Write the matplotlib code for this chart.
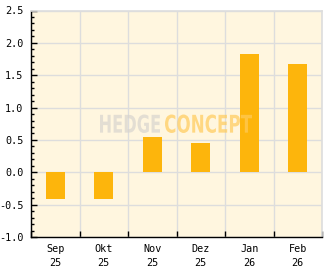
import numpy as np
import matplotlib
matplotlib.use("Agg")
import matplotlib.pyplot as plt
from matplotlib.textpath import TextPath
from matplotlib.patches import PathPatch
from matplotlib.font_manager import FontProperties
from matplotlib.transforms import Affine2D
from matplotlib.ticker import MultipleLocator

# data
months = ["Sep\n25", "Okt\n25", "Nov\n25", "Dez\n25", "Jan\n26", "Feb\n26"]
values = [-0.42, -0.42, 0.55, 0.46, 1.83, 1.67]
y_ticks = [-1.0, -0.5, 0.0, 0.5, 1.0, 1.5, 2.0, 2.5]

BAR = "#FDB50C"
BG = "#FFF6DF"
GRID = "#DDDDDD"

plt.rcParams["axes.unicode_minus"] = False

W, H = 332, 269
fig = plt.figure(figsize=(W / 100, H / 100), dpi=100)
ax = fig.add_axes([31 / W, 1 - 237 / H, 291 / W, 226.5 / H])
ax.set_facecolor(BG)

x = np.arange(len(months))
ax.bar(x, values, width=0.4, color=BAR, zorder=3)

ax.set_xlim(-0.5, len(months) - 0.5)
ax.set_ylim(-1.0, 2.5)
ax.set_yticks(y_ticks)
ax.set_yticklabels([f"{v:.1f}" for v in y_ticks])
ax.yaxis.set_minor_locator(MultipleLocator(0.1))

# vertical grid sits between categories
ax.set_xticks(x)
ax.set_xticklabels(months, linespacing=1.45)
ax.set_xticks(np.arange(len(months) + 1) - 0.5, minor=True)
ax.grid(True, which="minor", axis="x", color=GRID, lw=1, zorder=1)
ax.grid(True, which="major", axis="y", color=GRID, lw=1, zorder=1)

font = "DejaVu Sans Mono"
for lab in ax.get_xticklabels() + ax.get_yticklabels():
    lab.set_fontfamily(font)
    lab.set_fontsize(7.3)

ax.tick_params(axis="x", which="major", length=0, pad=5)
ax.tick_params(axis="x", which="minor", direction="in", length=4, width=1, color="black")
ax.tick_params(axis="y", which="major", direction="in", length=4.5, width=1, pad=5.5)
ax.tick_params(axis="y", which="minor", direction="in", length=2.5, width=1)

for s in ["left", "bottom"]:
    ax.spines[s].set_color("black")
    ax.spines[s].set_linewidth(1)
for s in ["top", "right"]:
    ax.spines[s].set_color(GRID)
    ax.spines[s].set_linewidth(1.2)

# watermark, condensed bold letters scaled into place (pixel boxes)
fp = FontProperties(family="DejaVu Sans", weight="bold")
def stamp(txt, x0, x1, y_top, y_bot, color):
    tp = TextPath((0, 0), txt, size=1, prop=fp)
    ext = tp.get_extents()
    sx = (x1 - x0) / ext.width
    sy = (y_bot - y_top) / ext.height
    tr = Affine2D().translate(-ext.x0, -ext.y0).scale(sx / W, sy / H) \
        .translate(x0 / W, 1 - y_bot / H)
    patch = PathPatch(tr.transform_path(tp), facecolor=color, edgecolor="none",
                      alpha=0.7, transform=fig.transFigure, zorder=10)
    fig.patches.append(patch)

stamp("HEDGE", 100, 160, 114.5, 133, "#D8D4CE")
stamp("CONCEPT", 165, 252, 114.5, 133, "#FFCB5A")

fig.savefig("out.png", dpi=100, facecolor="white")
